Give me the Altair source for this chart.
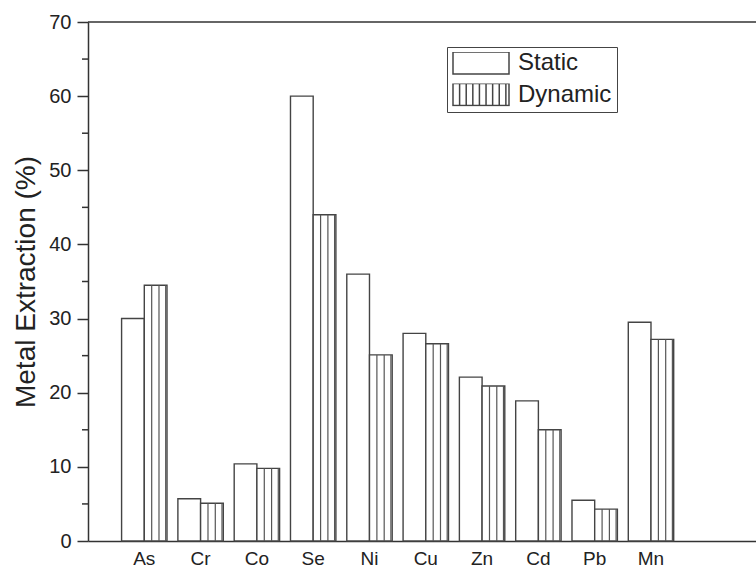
import altair as alt
import pandas as pd

# ---- data ----
metals = ["As", "Cr", "Co", "Se", "Ni", "Cu", "Zn", "Cd", "Pb", "Mn"]
static_vals = [30.0, 5.7, 10.4, 60.0, 36.0, 28.0, 22.1, 18.9, 5.5, 29.5]
dynamic_vals = [34.5, 5.1, 9.8, 44.0, 25.1, 26.6, 20.9, 15.0, 4.3, 27.2]
series_names = ["Static", "Dynamic"]
y_major_ticks = [0, 10, 20, 30, 40, 50, 60, 70]
y_minor_ticks = [5, 15, 25, 35, 45, 55, 65]

rows = []
for m, s, d in zip(metals, static_vals, dynamic_vals):
    rows.append({"metal": m, "series": "Static", "value": s})
    rows.append({"metal": m, "series": "Dynamic", "value": d})
df = pd.DataFrame(rows)

FONT = "Liberation Sans"
LINE = "#333333"
TEXT = "#222222"
W, H = 668, 519

# legend swatches (unit-space SVG paths)
rect_path = "M-1,-0.39H1V0.39H-1Z"
hatch_xs = [-0.764, -0.528, -0.292, -0.056, 0.18, 0.416, 0.652, 0.888]
hatch_path = rect_path + "".join(f" M{x},-0.39V0.39" for x in hatch_xs)

x_scale = alt.Scale(domain=metals, paddingInner=0, paddingOuter=0.9325, align=0.268)
off_scale = alt.Scale(domain=series_names, paddingInner=0, paddingOuter=0.24)
y_scale = alt.Scale(domain=[0, 70], nice=False, zero=True)

y_axis = alt.Axis(
    values=y_major_ticks,
    tickSize=11,
    grid=False,
    title="Metal Extraction (%)",
    titleFontSize=28,
    titleFontWeight="normal",
    titleFont=FONT,
    titleColor=TEXT,
    titlePadding=8,
    labelFontSize=20,
    labelPadding=6,
)
x_axis = alt.Axis(
    title=None,
    ticks=False,
    labelAngle=0,
    labelFontSize=19,
    labelPadding=8,
    grid=False,
)

X = alt.X("metal:N", scale=x_scale, axis=x_axis, sort=metals)
XOFF = alt.XOffset("series:N", scale=off_scale, sort=series_names)
Y = alt.Y("value:Q", scale=y_scale, axis=y_axis)

base = alt.Chart(df)

bars = base.mark_bar(fill="white", stroke="#444444", strokeWidth=1.4).encode(
    x=X, xOffset=XOFF, y=Y
)

hatch_layers = []
for off in [7.4, 14.7, 21.4]:
    hatch_layers.append(
        base.transform_filter(alt.datum.series == "Dynamic")
        .mark_rule(xOffset=off, stroke="#555555", strokeWidth=1.2)
        .encode(x=X, y=Y, y2=alt.datum(0))
    )

minor_ticks = alt.Chart(pd.DataFrame({"value": y_minor_ticks})).mark_rule(
    color=LINE, strokeWidth=1.5
).encode(
    y=Y,
    x=alt.value(-6),
    x2=alt.value(0),
)

legend_pts = base.mark_point(opacity=0, filled=False).encode(
    x=X,
    xOffset=XOFF,
    y=Y,
    shape=alt.Shape(
        "series:N",
        scale=alt.Scale(domain=series_names, range=[rect_path, hatch_path]),
        sort=series_names,
        legend=alt.Legend(
            title=None,
            orient="none",
            legendX=359,
            legendY=25,
            symbolSize=3136,
            symbolStrokeWidth=1.5,
            symbolStrokeColor="#444444",
            symbolFillColor="white",
            symbolOpacity=1,
            symbolOffset=0,
            clipHeight=22,
            labelFont=FONT,
            labelFontSize=24,
            labelColor=TEXT,
            labelOffset=8,
            rowPadding=7.5,
            padding=5,
            strokeColor="#444444",
            cornerRadius=0,
        ),
    ),
)

top_edge = alt.Chart(pd.DataFrame({"edge": ["top"]})).mark_rule(
    color=LINE, strokeWidth=1.5
).encode(x=alt.value(0), x2=alt.value(W), y=alt.value(0))

chart = (
    alt.layer(bars, *hatch_layers, minor_ticks, legend_pts, top_edge)
    .properties(
        width=W,
        height=H,
        autosize=alt.AutoSizeParams(type="none"),
        padding={"left": 88, "top": 22, "right": 0, "bottom": 29},
        background="white",
    )
    .configure_view(stroke=None)
    .configure_axis(
        domainColor=LINE,
        domainWidth=1.5,
        tickColor=LINE,
        tickWidth=1.5,
        labelFont=FONT,
        labelColor=TEXT,
        titleFont=FONT,
    )
)

chart.save("out.html", embed_options={"renderer": "svg", "actions": False})
